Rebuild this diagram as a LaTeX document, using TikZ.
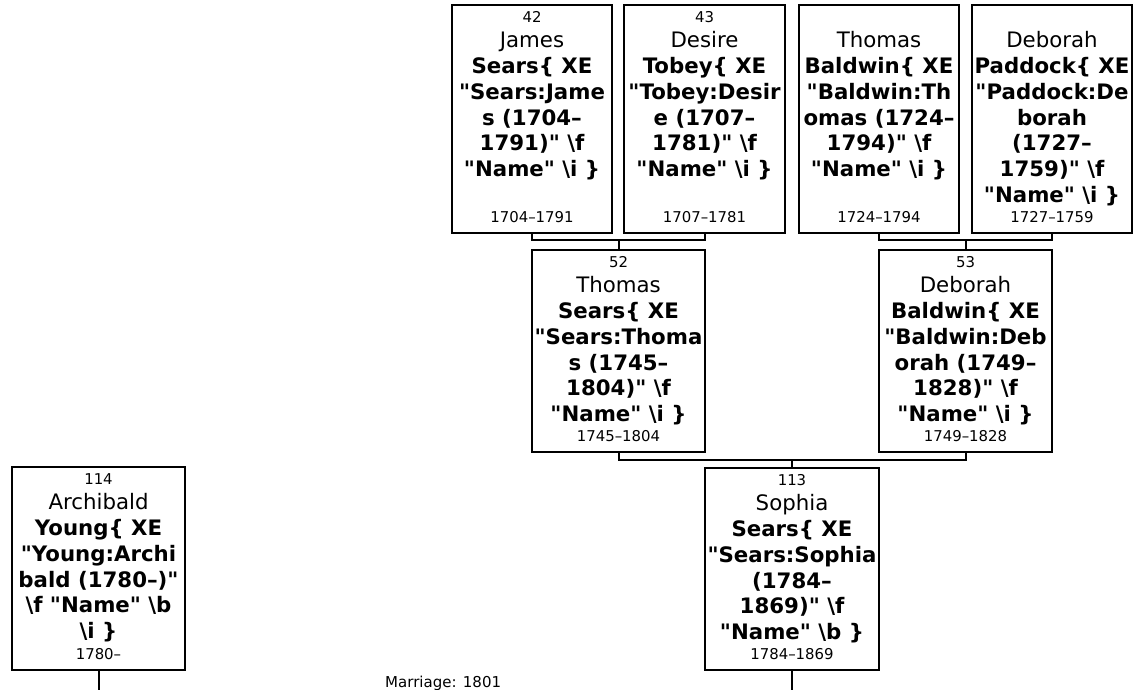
\documentclass[tikz,border=0pt]{standalone}
\usepackage{fontspec}
\setmainfont{DejaVu Sans}
\newcommand{\dq}{{\XeTeXglyph\XeTeXcharglyph"22\relax}}
\newcommand{\bs}{\textbackslash}
\tikzset{
 pbox/.style={draw, line width=2pt, rectangle, inner sep=0pt, outer sep=0pt},
 numtxt/.style={anchor=base, inner sep=0pt, font=\fontsize{14.9}{18}\selectfont},
 nametxt/.style={anchor=base, inner sep=0pt, font=\fontsize{21.3}{25.9}\selectfont},
 boldtxt/.style={anchor=base, inner sep=0pt, font=\fontsize{21.3}{25.9}\selectfont\bfseries},
 conn/.style={draw, line width=2pt},
}
\newcommand{\person}[9]{%
 \node[pbox, minimum width={#3-#2}, minimum height={#5-#4}] (#1) at ({(#2+#3)/2},{(#4+#5)/2}) {};
 \ifx\relax#6\relax\else
 \node[numtxt] (#1-num) at ({(#2+#3)/2},{#4+17.5}) {#6};
 \fi
 \node[nametxt] (#1-name) at ({(#2+#3)/2},{#4+42.5}) {#7};
 \foreach [count=\k] \lab in {#8} {
   \node[boldtxt] (#1-l\k) at ({(#2+#3)/2},{#4+42.5+25.85*\k}) {\lab};
 }
 \node[numtxt] (#1-date) at ({(#2+#3)/2},{#5-11}) {#9};
}
\begin{document}
\begin{tikzpicture}[x=1pt,y=-1pt]
\useasboundingbox (0,0) rectangle (1142,690);
\person{b42}{452}{612}{5}{233}{42}{James}{{Sears\{ XE},{\dq Sears:Jame},{s (1704–},{1791)\dq{} \bs f},{\dq Name\dq{} \bs i \}}}{1704–1791}
\person{b43}{624}{785}{5}{233}{43}{Desire}{{Tobey\{ XE},{\dq Tobey:Desir},{e (1707–},{1781)\dq{} \bs f},{\dq Name\dq{} \bs i \}}}{1707–1781}
\person{btb}{799}{959}{5}{233}{}{Thomas}{{Baldwin\{ XE},{\dq Baldwin:Th},{omas (1724–},{1794)\dq{} \bs f},{\dq Name\dq{} \bs i \}}}{1724–1794}
\person{bdp}{972}{1132}{5}{233}{}{Deborah}{{Paddock\{ XE},{\dq Paddock:De},{borah},{(1727–},{1759)\dq{} \bs f},{\dq Name\dq{} \bs i \}}}{1727–1759}
\person{b52}{532}{705}{250}{452}{52}{Thomas}{{Sears\{ XE},{\dq Sears:Thoma},{s (1745–},{1804)\dq{} \bs f},{\dq Name\dq{} \bs i \}}}{1745–1804}
\person{b53}{879}{1052}{250}{452}{53}{Deborah}{{Baldwin\{ XE},{\dq Baldwin:Deb},{orah (1749–},{1828)\dq{} \bs f},{\dq Name\dq{} \bs i \}}}{1749–1828}
\person{b113}{705}{879}{468}{670}{113}{Sophia}{{Sears\{ XE},{\dq Sears:Sophia},{(1784–},{1869)\dq{} \bs f},{\dq Name\dq{} \bs b \}}}{1784–1869}
\person{b114}{12}{185}{467}{670}{114}{Archibald}{{Young\{ XE},{\dq Young:Archi},{bald (1780–)\dq},{\bs f \dq Name\dq{} \bs b},{\bs i \}}}{1780–}
\coordinate (c1) at (618.5,240);
\coordinate (c2) at (965.5,240);
\coordinate (c3) at (792,460);
\coordinate (e114) at (98.5,690);
\coordinate (e113) at (792,690);
\draw[conn] (b42.south) |- (c1) -| (b43.south);
\draw[conn] (c1) -- (b52.north);
\draw[conn] (btb.south) |- (c2) -| (bdp.south);
\draw[conn] (c2) -- (b53.north);
\draw[conn] (b52.south) |- (c3) -| (b53.south);
\draw[conn] (c3) -- (b113.north);
\draw[conn] (b114.south) -- (e114);
\draw[conn] (b113.south) -- (e113);
\node[anchor=base west, inner sep=0pt, font=\fontsize{15}{18}\selectfont] (marr) at (385,687) {Marriage: 1801};
\end{tikzpicture}
\end{document}
